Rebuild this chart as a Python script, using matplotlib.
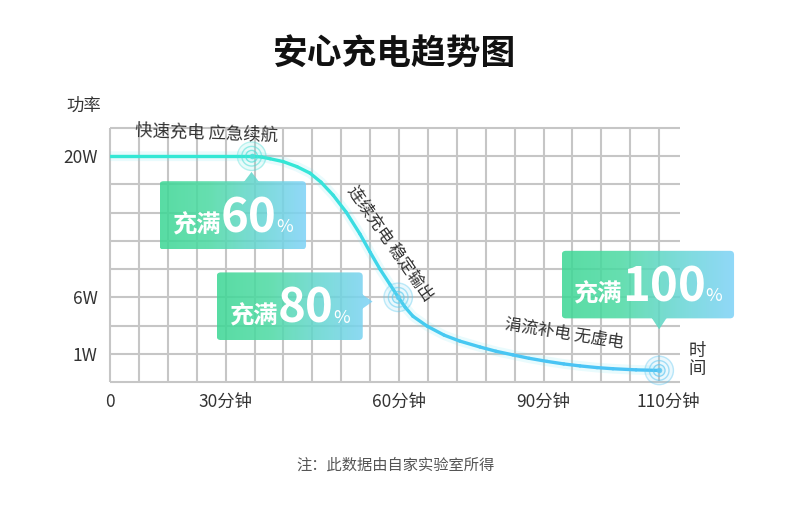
import numpy as np
import matplotlib
matplotlib.use('Agg')
import matplotlib.pyplot as plt
from matplotlib.path import Path
from matplotlib.patches import FancyBboxPatch, PathPatch
from matplotlib.collections import LineCollection
from matplotlib.colors import LinearSegmentedColormap
from matplotlib.offsetbox import TextArea, HPacker, AnnotationBbox

plt.rcParams['font.family'] = ['Noto Sans CJK SC', 'DejaVu Sans']

# ---------------- data (grid units) ----------------
time_pos = [0.0, 4.91, 5.25, 5.54, 5.99, 6.47, 6.92, 7.30, 7.72, 8.17, 8.65,
            9.00, 9.34, 9.69, 9.97, 10.21, 10.48, 10.97, 11.56, 12.10, 12.80,
            13.35, 13.94, 14.50, 15.12, 15.70, 16.26, 16.85, 17.40, 18.20, 19.0]
power_pos = [8.0, 8.0, 7.97, 7.91, 7.81, 7.63, 7.40, 7.08, 6.62, 6.02, 5.24,
             4.60, 4.00, 3.45, 3.01, 2.65, 2.33, 1.98, 1.66, 1.45, 1.24,
             1.09, 0.96, 0.84, 0.73, 0.64, 0.57, 0.51, 0.47, 0.43, 0.41]

x_tick_pos = [0, 4, 10, 15, 19.3]
x_tick_labels = ['0', '30分钟', '60分钟', '90分钟', '110分钟']
y_tick_pos = [8, 3, 1]
y_tick_labels = ['20W', '6W', '1W']

milestone_x = [4.9, 9.97, 19.0]
milestone_y = [8.0, 3.0, 0.41]
milestone_pct = ['60', '80', '100']
milestone_color = ['#4fe0d8', '#62cdf0', '#62c8f2']

# ---------------- figure ----------------
fig = plt.figure(figsize=(7.9, 5.25), dpi=100)
ax = fig.add_axes([110 / 790, 143 / 525, 570 / 790, 254 / 525])
XMAX, YMAX = 19.72, 9.0

grid_c = '#c6c6c6'
ax.vlines(np.arange(0, 20), 0, YMAX, color=grid_c, lw=1.5, zorder=1, clip_on=False)
ax.hlines(np.arange(0, 10), 0, XMAX, color=grid_c, lw=1.5, zorder=1, clip_on=False)

# curve: glow + gradient line
ax.plot(time_pos, power_pos, color='#6fe6f2', lw=7, alpha=0.15,
        solid_capstyle='round', solid_joinstyle='round', zorder=3)
pts = np.column_stack([time_pos, power_pos])
segs = np.stack([pts[:-1], pts[1:]], axis=1)
line_cmap = LinearSegmentedColormap.from_list('ln', ['#33e8d5', '#3fd6ea', '#4ac3f5'])
ymid = (pts[:-1, 1] + pts[1:, 1]) / 2
tval = np.clip((8.0 - ymid) / 7.6, 0, 1)
lc = LineCollection(segs, colors=line_cmap(tval), linewidths=2.4,
                    capstyle='round', joinstyle='round', zorder=4)
ax.add_collection(lc)

# milestone rings
for mx, my, mc in zip(milestone_x, milestone_y, milestone_color):
    ax.scatter([mx], [my], s=420, color=mc, alpha=0.12, lw=0, zorder=5, clip_on=False)
    ax.scatter([mx], [my], s=420, facecolor='none', edgecolor=mc, alpha=0.4, lw=1.0, zorder=5, clip_on=False)
    ax.scatter([mx], [my], s=200, facecolor='none', edgecolor=mc, alpha=0.55, lw=1.0, zorder=5, clip_on=False)
    ax.scatter([mx], [my], s=70, facecolor='none', edgecolor=mc, alpha=0.7, lw=1.0, zorder=5, clip_on=False)
    ax.scatter([mx], [my], s=16, color=mc, alpha=0.85, lw=0, zorder=5, clip_on=False)

# callouts: (left, bottom, right, top), triangle (kind, anchor)
box_cmap = LinearSegmentedColormap.from_list('bx', ['#3dd795', '#4ddaa3', '#66d6d2', '#7fd2f8'])
callouts = [
    ((1.713, 4.697, 6.782, 7.115), ('up', 4.896, 7.444)),
    ((3.692, 1.487, 8.744, 3.883), ('right', 9.083, 2.85)),
    ((15.63, 2.255, 21.59, 4.648), ('down', 19.0, 1.866)),
]
hw = 0.28
eps = 0.05
for (x0, y0, x1, y1), (kind, tx, ty) in callouts:
    rect = FancyBboxPatch((x0, y0), x1 - x0, y1 - y0,
                          boxstyle='round,pad=0,rounding_size=0.14')
    rpath = rect.get_path()
    if kind == 'up':
        tri = [(tx - hw, y1 - eps), (tx + hw, y1 - eps), (tx, ty), (tx - hw, y1 - eps)]
    elif kind == 'right':
        tri = [(x1 - eps, ty - hw), (tx, ty), (x1 - eps, ty + hw), (x1 - eps, ty - hw)]
    else:
        tri = [(tx + hw, y0 + eps), (tx - hw, y0 + eps), (tx, ty), (tx + hw, y0 + eps)]
    tpath = Path(tri, [Path.MOVETO, Path.LINETO, Path.LINETO, Path.CLOSEPOLY])
    cpath = Path.make_compound_path(rpath, tpath)
    ex0, ex1 = x0, max(x1, tx)
    ey0, ey1 = min(y0, ty), max(y1, ty)
    im = ax.imshow(np.linspace(0, 1, 256)[None, :], cmap=box_cmap,
                   extent=(ex0, ex1, ey0, ey1), aspect='auto',
                   interpolation='bilinear', alpha=0.86, zorder=6)
    clip = PathPatch(cpath, transform=ax.transData, facecolor='none', edgecolor='none')
    im.set_clip_box(fig.bbox)
    im.set_clip_path(clip)

for (x0, y0, x1, y1), pct in zip([c[0] for c in callouts], milestone_pct):
    t1 = TextArea('充满', textprops=dict(color='white', fontsize=17.5, fontweight='bold'))
    t2 = TextArea(pct, textprops=dict(color='white', fontsize=34, fontweight='bold'))
    t3 = TextArea('%', textprops=dict(color='white', fontsize=13))
    hp = HPacker(children=[t1, t2, t3], align='baseline', pad=0, sep=0)
    ab = AnnotationBbox(hp, ((x0 + x1) / 2, y0 + 0.25), xycoords='data',
                        box_alignment=(0.5, 0), frameon=False, pad=0,
                        annotation_clip=False, zorder=7)
    ax.add_artist(ab)
    ab.set_clip_on(False)

ax.set_xlim(0, XMAX)
ax.set_ylim(0, YMAX)
for s in ax.spines.values():
    s.set_visible(False)
ax.set_xticks(x_tick_pos, x_tick_labels)
ax.set_yticks(y_tick_pos, y_tick_labels)
ax.tick_params(axis='both', length=0, labelsize=12.5, labelcolor='#333333')
ax.tick_params(axis='x', pad=8)
ax.tick_params(axis='y', pad=9)

# annotations along curve
txt_c = '#333333'
ax.text(3.35, 8.84, '快速充电 应急续航', fontsize=12.5, color=txt_c, ha='center', va='center',
        rotation=-2, zorder=8, clip_on=False)
ax.text(9.7, 4.92, '连续充电 稳定输出', fontsize=12, color=txt_c, ha='center', va='center',
        rotation=-55, rotation_mode='anchor', zorder=8)
ax.text(15.7, 1.73, '涓流补电 无虚电', fontsize=12, color=txt_c, ha='center', va='center',
        rotation=-9, rotation_mode='anchor', zorder=8)

# axis names, title, note (figure coords)
fig.text(84 / 790, 1 - 106 / 525, '功率', fontsize=12.5, color=txt_c, ha='center', va='center')
fig.text(697 / 790, 1 - 360 / 525, '时\n间', fontsize=12.5, color=txt_c, ha='center', va='center',
         linespacing=1.05)
fig.text(395 / 790, 1 - 53 / 525, '安心充电趋势图', fontsize=25, fontweight='bold',
         color='#111111', ha='center', va='center')
fig.text(395 / 790, 1 - 465 / 525, '注：此数据由自家实验室所得', fontsize=11, color='#555555',
         ha='center', va='center')

fig.savefig('out.png', dpi=100, facecolor='white')
